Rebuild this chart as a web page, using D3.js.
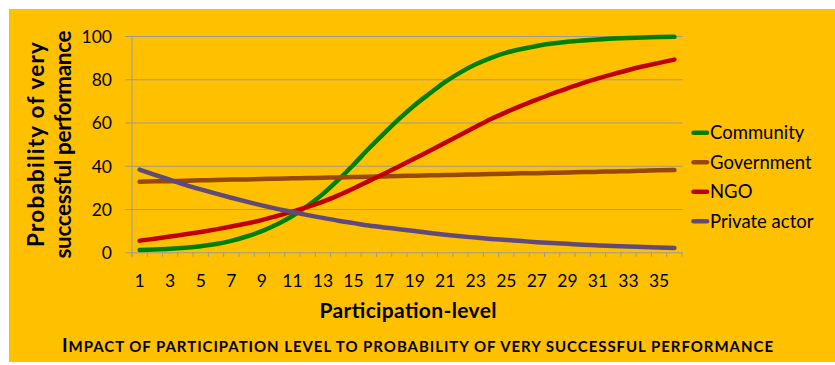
<!doctype html>
<html lang="en">
<head>
<meta charset="utf-8">
<script src="https://d3js.org/d3.v7.min.js"></script>
<style>
  body { margin: 0; background: #fff; }
  text { font-family: Lato, "Open Sans", sans-serif; fill: #000; }
</style>
</head>
<body>
<div id="chart"></div>
<script>
// participation levels 1..36
const levels = [1,2,3,4,5,6,7,8,9,10,11,12,13,14,15,16,17,18,19,20,21,22,23,24,25,26,27,28,29,30,31,32,33,34,35,36];
const xLabels = [1,3,5,7,9,11,13,15,17,19,21,23,25,27,29,31,33,35];
const yTicks = [0,20,40,60,80,100];

const community = [1.1,1.3,1.6,2.1,2.8,3.8,5.3,7.3,9.8,13,16.8,21.5,27,33.5,40.5,48,55,61.8,68,73.5,78.8,83.2,86.9,89.9,92.3,94,95.4,96.5,97.3,97.9,98.4,98.8,99.1,99.3,99.5,99.6];
const government = [32.6,32.8,32.9,33.1,33.3,33.4,33.6,33.7,33.9,34.0,34.2,34.3,34.5,34.6,34.8,34.9,35.1,35.3,35.4,35.6,35.7,35.9,36.0,36.2,36.3,36.5,36.6,36.8,36.9,37.1,37.2,37.4,37.5,37.7,37.9,38.0];
const ngo = [5.4,6.3,7.3,8.3,9.4,10.6,11.9,13.3,14.9,16.8,18.8,21,23.4,26.3,29.5,32.9,36.3,39.8,43.4,47,50.7,54.3,58,61.6,64.8,67.8,70.6,73.3,75.8,78.2,80.4,82.4,84.3,86,87.6,89.1];
const privateActor = [38.2,35.8,33.5,31.2,29.1,27.1,25.2,23.4,21.7,20.1,18.6,17.2,15.9,14.6,13.5,12.4,11.5,10.7,9.8,8.9,8.1,7.4,6.8,6.2,5.7,5.2,4.7,4.3,3.9,3.5,3.2,2.9,2.7,2.4,2.2,2.0];

const seriesNames = ["Community","Government","NGO","Private actor"];
const seriesColors = ["#008000","#984807","#C00000","#604A7B"];
const seriesData = [community, government, ngo, privateActor];

const captionText = "Impact of participation level to probability of very successful performance";

const W = 835, H = 365;
const plotLeft = 132, plotRight = 682, plotTop = 36, plotBottom = 252.3;

const svg = d3.select('#chart').append('svg')
  .attr('width', W).attr('height', H);

svg.append('rect')
  .attr('x', 9).attr('y', 9)
  .attr('width', W - 9).attr('height', 353)
  .attr('fill', '#FFC000');

const xScale = d3.scaleBand().domain(levels).range([plotLeft, plotRight]).padding(0);
const yScale = d3.scaleLinear().domain([0, 100]).range([plotBottom, plotTop]);
const cx = d => xScale(d) + xScale.bandwidth() / 2;

// y axis with gridlines
const yAxis = svg.append('g')
  .attr('transform', 'translate(' + plotLeft + ',0)')
  .call(d3.axisLeft(yScale).tickValues(yTicks).tickSize(7).tickPadding(13));
yAxis.select('.domain').remove();
yAxis.selectAll('.tick line')
  .attr('x2', plotRight - plotLeft + 0.5).attr('x1', -7)
  .attr('stroke', '#9a9a9a');
yAxis.selectAll('.tick text')
  .style('font-size', '17.5px').attr('dy', '0.36em');

// left axis line
svg.append('line')
  .attr('x1', plotLeft).attr('x2', plotLeft)
  .attr('y1', plotTop).attr('y2', plotBottom + 4.5)
  .attr('stroke', '#9a9a9a');

// x axis: labels on odd levels, tick marks between categories
const xAxis = svg.append('g')
  .attr('transform', 'translate(0,' + plotBottom + ')')
  .call(d3.axisBottom(xScale).tickValues(xLabels).tickSize(0).tickPadding(22));
xAxis.select('.domain').remove();
xAxis.selectAll('.tick text').style('font-size', '17.5px');

const bounds = levels.map(d => xScale(d)).concat([plotRight]);
svg.append('g').selectAll('line')
  .data(bounds).enter().append('line')
  .attr('x1', d => d).attr('x2', d => d)
  .attr('y1', plotBottom).attr('y2', plotBottom + 4.5)
  .attr('stroke', '#9a9a9a');

// series lines
const line = d3.line()
  .x((d, i) => cx(levels[i]))
  .y(d => yScale(d))
  .curve(d3.curveMonotoneX);

svg.append('g').selectAll('path')
  .data(seriesData).enter().append('path')
  .attr('d', d => line(d))
  .attr('fill', 'none')
  .attr('stroke', (d, i) => seriesColors[i])
  .attr('stroke-width', 4.5)
  .attr('stroke-linecap', 'round')
  .attr('stroke-linejoin', 'round');

// legend
const legend = svg.append('g').selectAll('g')
  .data(seriesNames).enter().append('g')
  .attr('transform', (d, i) => 'translate(692,' + (132.7 + i * 29.5) + ')');
legend.append('line')
  .attr('x1', 1.5).attr('x2', 15)
  .attr('stroke', (d, i) => seriesColors[i])
  .attr('stroke-width', 4.5)
  .attr('stroke-linecap', 'round');
legend.append('text')
  .attr('x', 18).attr('dy', '0.35em')
  .style('font-size', '18.5px')
  .text(d => d);

// axis titles
svg.append('text')
  .attr('x', 408).attr('y', 318)
  .attr('text-anchor', 'middle')
  .attr('textLength', 177)
  .style('font-size', '21px').style('font-weight', 'bold')
  .text('Participation-level');

const yTitle = svg.append('text')
  .attr('transform', 'translate(44,144.5) rotate(-90)')
  .attr('text-anchor', 'middle')
  .style('font-size', '22.5px').style('font-weight', 'bold');
yTitle.append('tspan').attr('x', 0).attr('y', 0)
  .attr('textLength', 205).text('Probability of very');
yTitle.append('tspan').attr('x', 0).attr('y', 27)
  .attr('textLength', 228).text('successful performance');

// bottom caption in small caps: only the leading capital is full size
const caption = svg.append('text')
  .attr('x', 417.5).attr('y', 352)
  .attr('text-anchor', 'middle')
  .attr('textLength', 711)
  .style('font-weight', 'bold');
caption.append('tspan').style('font-size', '19px').text(captionText[0]);
caption.append('tspan').style('font-size', '15px').text(captionText.slice(1).toUpperCase());
</script>
</body>
</html>
